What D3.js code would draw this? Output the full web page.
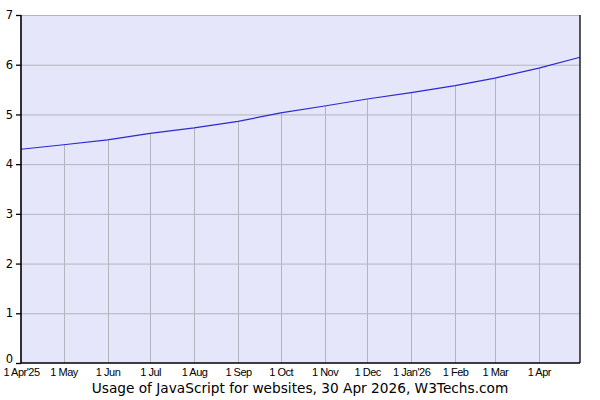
<!DOCTYPE html>
<html>
<head>
<meta charset="utf-8">
<script src="https://cdn.jsdelivr.net/npm/d3@7"></script>
<style>
  body { margin: 0; background: #fff; }
  .tick-x { font-family: "Liberation Sans", Arial, sans-serif; font-size: 11px; letter-spacing: -0.5px; fill: #000; }
  .tick-y { font-family: "DejaVu Sans", Verdana, sans-serif; font-size: 11.5px; fill: #000; }
  .title { font-family: "DejaVu Sans", Verdana, sans-serif; font-size: 13.7px; fill: #000; }
</style>
</head>
<body>
<div id="chart"></div>
<script>
// data: monthly readings (percent of websites)
const dates = ['2025-04-01', '2025-05-01', '2025-06-01', '2025-07-01', '2025-08-01', '2025-09-01',
    '2025-10-01', '2025-11-01', '2025-12-01', '2026-01-01', '2026-02-01', '2026-03-01',
    '2026-04-01', '2026-04-30'];
const usage = [4.30, 4.39, 4.49, 4.62, 4.73, 4.86, 5.03, 5.17, 5.31, 5.44, 5.58, 5.73, 5.93, 6.15];
const xTickLabels = ["1 Apr'25", '1 May', '1 Jun', '1 Jul', '1 Aug', '1 Sep', '1 Oct',
    '1 Nov', '1 Dec', "1 Jan'26", '1 Feb', '1 Mar', '1 Apr'];
const yTicks = [0, 1, 2, 3, 4, 5, 6, 7];
const title = 'Usage of JavaScript for websites, 30 Apr 2026, W3Techs.com';

// dimensions
const dim = {
    width: 600,
    height: 400,
    margin: { top: 15, right: 20, bottom: 37, left: 21 }
};
const innerW = dim.width - dim.margin.left - dim.margin.right;
const innerH = dim.height - dim.margin.top - dim.margin.bottom;

const parse = d3.timeParse('%Y-%m-%d');
const points = dates.map((d, i) => ({ date: parse(d), value: usage[i] }));

const svg = d3.select('#chart')
    .append('svg')
    .attr('width', dim.width)
    .attr('height', dim.height)
    .append('g')
        .attr('transform', `translate(${dim.margin.left}, ${dim.margin.top})`);

// scales
const xScale = d3.scaleTime()
    .domain(d3.extent(points, d => d.date))
    .range([0, innerW]);

const yScale = d3.scaleLinear()
    .domain([0, 7])
    .range([innerH, 0]);

// background
svg.append('rect')
    .attr('width', innerW)
    .attr('height', innerH)
    .attr('fill', '#e6e6fa');

// horizontal grid
svg.append('g')
    .selectAll('line')
    .data(yTicks.filter(t => t > 0))
    .join('line')
        .attr('x1', 0)
        .attr('x2', innerW)
        .attr('y1', d => yScale(d) + 0.5)
        .attr('y2', d => yScale(d) + 0.5)
        .attr('stroke', '#b4b4be')
        .attr('stroke-width', 1);

// drop lines from each monthly point
svg.append('g')
    .selectAll('line')
    .data(points.slice(1, -1))
    .join('line')
        .attr('x1', d => Math.round(xScale(d.date)) + 0.5)
        .attr('x2', d => Math.round(xScale(d.date)) + 0.5)
        .attr('y1', d => yScale(d.value))
        .attr('y2', innerH)
        .attr('stroke', '#b4b4be')
        .attr('stroke-width', 1);

// data line
svg.append('path')
    .datum(points)
    .attr('fill', 'none')
    .attr('stroke', '#2a2ad0')
    .attr('stroke-width', 1.2)
    .attr('d', d3.line()
        .x(d => xScale(d.date))
        .y(d => yScale(d.value)));

// y axis
const yAxis = svg.append('g')
    .call(d3.axisLeft(yScale).tickValues(yTicks).tickSize(5).tickPadding(3).tickFormat(d3.format('d')));
yAxis.select('.domain').remove();
yAxis.selectAll('.tick line').attr('stroke', '#000').attr('stroke-width', 1.3);
// the zero label sits a bit higher so it clears the first date label
yAxis.selectAll('text').attr('class', 'tick-y').attr('font-family', null).attr('font-size', null)
    .attr('dy', (d) => d === 0 ? '-0.05em' : '0.32em');

// axis frame lines
svg.append('line')
    .attr('x1', 0).attr('x2', 0)
    .attr('y1', 0).attr('y2', innerH)
    .attr('stroke', '#000').attr('stroke-width', 1.6);
svg.append('line')
    .attr('x1', innerW).attr('x2', innerW)
    .attr('y1', 0).attr('y2', innerH)
    .attr('stroke', '#000').attr('stroke-width', 1.3);
svg.append('line')
    .attr('x1', 0).attr('x2', innerW)
    .attr('y1', innerH).attr('y2', innerH)
    .attr('stroke', '#000').attr('stroke-width', 1.6);

// x axis labels
const xAxis = svg.append('g')
    .attr('transform', `translate(0, ${innerH})`)
    .call(d3.axisBottom(xScale)
        .tickValues(points.slice(0, -1).map(d => d.date))
        .tickSize(0)
        .tickPadding(5)
        .tickFormat((d, i) => xTickLabels[i]));
xAxis.select('.domain').remove();
xAxis.selectAll('text').attr('class', 'tick-x').attr('font-family', null).attr('font-size', null);

// title
d3.select('svg').append('text')
    .attr('class', 'title')
    .attr('x', 300)
    .attr('y', 393)
    .attr('text-anchor', 'middle')
    .text(title);
</script>
</body>
</html>
